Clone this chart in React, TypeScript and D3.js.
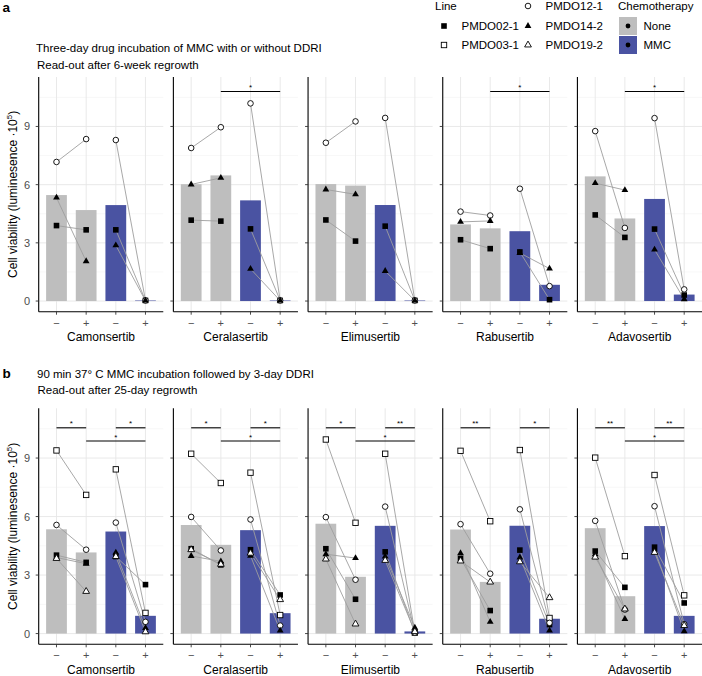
import React from "react";
import * as d3 from "d3";

// ---- categories ----
const drugs = ["Camonsertib", "Ceralasertib", "Elimusertib", "Rabusertib", "Adavosertib"];
const conditionKeys = ["None-", "None+", "MMC-", "MMC+"];
const conditionTicks = ["−", "+", "−", "+"];
const conditionChemo = ["None", "None", "MMC", "MMC"];
const yTicks = [0, 3, 6, 9];
const yMinorTicks = [1.5, 4.5, 7.5, 10.5];

// ---- a: three-day incubation, 6-week regrowth (rows = drugs, cols = conditions) ----
const a_PMDO02_1 = [
  [3.89, 3.67, 3.67, 0.03],
  [4.17, 4.12, 3.72, 0.03],
  [4.18, 3.09, 3.86, 0.03],
  [3.16, 2.7, 2.53, 0.07],
  [4.44, 3.28, 3.71, 0.31],
];
const a_PMDO12_1 = [
  [7.17, 8.35, 8.3, 0.03],
  [7.89, 8.96, 10.19, 0.03],
  [8.16, 9.26, 9.44, 0.03],
  [4.61, 4.41, 5.79, 0.77],
  [8.76, 3.77, 9.43, 0.6],
];
const a_PMDO14_2 = [
  [5.33, 2.05, 2.87, 0.02],
  [6.01, 6.35, 1.66, 0.02],
  [5.75, 5.5, 1.55, 0.02],
  [4.08, 4.13, 2.48, 1.67],
  [6.08, 5.72, 2.65, 0.09],
];

// ---- b: 90 min MMC then 3-day DDRI, 25-day regrowth ----
const b_PMDO02_1 = [
  [4.02, 3.65, 3.95, 2.51],
  [4.35, 3.52, 4.3, 1.98],
  [4.35, 1.76, 4.19, 0.05],
  [3.85, 1.18, 4.28, 0.46],
  [4.23, 2.37, 4.43, 1.57],
];
const b_PMDO03_1 = [
  [9.39, 7.11, 8.42, 1.06],
  [9.22, 7.72, 8.25, 0.95],
  [9.95, 5.68, 9.22, 0.05],
  [9.37, 5.76, 9.41, 0.8],
  [9.02, 3.97, 8.13, 1.96],
];
const b_PMDO12_1 = [
  [5.57, 4.3, 5.69, 0.6],
  [5.98, 4.26, 5.85, 0.41],
  [5.97, 2.76, 6.51, 0.05],
  [5.61, 3.07, 6.37, 0.55],
  [5.78, 1.23, 6.53, 0.48],
];
const b_PMDO14_2 = [
  [3.9, 3.58, 4.15, 0.29],
  [3.98, 3.7, 3.99, 0.15],
  [4.07, 3.87, 3.95, 0.3],
  [4.12, 0.6, 3.9, 0.15],
  [4.07, 0.75, 4.31, 0.12],
];
const b_PMDO19_2 = [
  [3.85, 2.16, 3.95, 0.09],
  [4.3, 3.55, 4.12, 1.74],
  [3.82, 0.49, 3.75, 0.1],
  [3.72, 2.64, 3.68, 1.84],
  [3.92, 1.26, 4.16, 0.41],
];

// ---- significance brackets: [drug, fromCondition, toCondition, y, label] ----
const sigA: [string, number, number, number, string][] = [
  ["Ceralasertib", 1, 3, 10.8, "*"],
  ["Rabusertib", 1, 3, 10.8, "*"],
  ["Adavosertib", 1, 3, 10.8, "*"],
];
const sigB: [string, number, number, number, string][] = [
  ["Camonsertib", 0, 1, 10.55, "*"],
  ["Camonsertib", 2, 3, 10.55, "*"],
  ["Camonsertib", 1, 3, 9.87, "*"],
  ["Ceralasertib", 0, 1, 10.55, "*"],
  ["Ceralasertib", 2, 3, 10.55, "*"],
  ["Ceralasertib", 1, 3, 9.87, "*"],
  ["Elimusertib", 0, 1, 10.55, "*"],
  ["Elimusertib", 2, 3, 10.55, "**"],
  ["Elimusertib", 1, 3, 9.87, "*"],
  ["Rabusertib", 0, 1, 10.55, "**"],
  ["Rabusertib", 2, 3, 10.55, "*"],
  ["Adavosertib", 0, 1, 10.55, "**"],
  ["Adavosertib", 2, 3, 10.55, "**"],
  ["Adavosertib", 1, 3, 9.87, "*"],
];

type Series = { line: string; values: number[][] };
const seriesA: Series[] = [
  { line: "PMDO02-1", values: a_PMDO02_1 },
  { line: "PMDO12-1", values: a_PMDO12_1 },
  { line: "PMDO14-2", values: a_PMDO14_2 },
];
const seriesB: Series[] = [
  { line: "PMDO02-1", values: b_PMDO02_1 },
  { line: "PMDO03-1", values: b_PMDO03_1 },
  { line: "PMDO12-1", values: b_PMDO12_1 },
  { line: "PMDO14-2", values: b_PMDO14_2 },
  { line: "PMDO19-2", values: b_PMDO19_2 },
];

const lineShape: Record<string, string> = {
  "PMDO02-1": "squareFilled",
  "PMDO03-1": "squareOpen",
  "PMDO12-1": "circleOpen",
  "PMDO14-2": "triangleFilled",
  "PMDO19-2": "triangleOpen",
};
const chemoColor = d3.scaleOrdinal<string, string>().domain(["None", "MMC"]).range(["#bebebe", "#4a53a2"]);

const W = 702;
const H = 676;
const FONT = "'Liberation Sans', Arial, Helvetica, sans-serif";
const panelScale = d3.scaleBand<string>().domain(drugs).range([38.7, 702]).paddingInner(0.075).paddingOuter(0);
const yDomain: [number, number] = [-0.55, 11.55];

const triPath = d3.symbol().type(d3.symbolTriangle).size(20)();

function Marker({ shape, x, y }: { shape: string; x: number; y: number }) {
  switch (shape) {
    case "squareFilled":
      return <rect x={x - 2.8} y={y - 2.8} width={5.6} height={5.6} fill="#000" />;
    case "squareOpen":
      return <rect x={x - 2.7} y={y - 2.7} width={5.4} height={5.4} fill="#fff" stroke="#000" strokeWidth={0.9} />;
    case "circleOpen":
      return <circle cx={x} cy={y} r={2.8} fill="#fff" stroke="#000" strokeWidth={0.9} />;
    case "triangleFilled":
      return <path d={triPath || ""} transform={`translate(${x},${y})`} fill="#000" />;
    default:
      return (
        <path d={triPath || ""} transform={`translate(${x},${y})`} fill="#fff" stroke="#000" strokeWidth={0.9} />
      );
  }
}

function Experiment({
  top,
  bottom,
  series,
  sig,
}: {
  top: number;
  bottom: number;
  series: Series[];
  sig: [string, number, number, number, string][];
}) {
  const y = d3.scaleLinear().domain(yDomain).range([bottom, top]);
  return (
    <g>
      {drugs.map((drug, di) => {
        const x0 = panelScale(drug)!;
        const pw = panelScale.bandwidth();
        const x = d3.scalePoint<string>().domain(conditionKeys).range([x0, x0 + pw]).padding(0.6);
        const bw = x.step() * 0.7;
        const means = conditionKeys.map((_, ci) => d3.mean(series, (s) => s.values[di][ci]) ?? 0);
        return (
          <g key={drug}>
            {/* grid */}
            {yMinorTicks.map((t) => (
              <line key={"m" + t} x1={x0} x2={x0 + pw} y1={y(t)} y2={y(t)} stroke="#f1f1f1" strokeWidth={0.6} />
            ))}
            {yTicks.map((t) => (
              <line key={"g" + t} x1={x0} x2={x0 + pw} y1={y(t)} y2={y(t)} stroke="#e6e6e6" strokeWidth={0.9} />
            ))}
            {conditionKeys.map((c) => (
              <line key={"v" + c} x1={x(c)!} x2={x(c)!} y1={top} y2={bottom} stroke="#e6e6e6" strokeWidth={0.9} />
            ))}
            {/* bars: mean per condition */}
            {conditionKeys.map((c, ci) => (
              <rect
                key={"b" + c}
                x={x(c)! - bw / 2}
                width={bw}
                y={Math.min(y(means[ci]), y(0))}
                height={Math.abs(y(0) - y(means[ci]))}
                fill={chemoColor(conditionChemo[ci])}
              />
            ))}
            {/* paired lines within each chemotherapy group */}
            {series.map((s) =>
              [0, 2].map((ci) => (
                <line
                  key={s.line + ci}
                  x1={x(conditionKeys[ci])!}
                  x2={x(conditionKeys[ci + 1])!}
                  y1={y(s.values[di][ci])}
                  y2={y(s.values[di][ci + 1])}
                  stroke="#9e9e9e"
                  strokeWidth={0.9}
                />
              ))
            )}
            {series.map((s) =>
              conditionKeys.map((c, ci) => (
                <Marker key={s.line + c} shape={lineShape[s.line]} x={x(c)!} y={y(s.values[di][ci])} />
              ))
            )}
            {/* axes */}
            <line x1={x0} x2={x0} y1={top} y2={bottom} stroke="#000" strokeWidth={1.1} />
            <line x1={x0} x2={x0 + pw} y1={bottom} y2={bottom} stroke="#000" strokeWidth={1.1} />
            {yTicks.map((t) => (
              <line key={"yt" + t} x1={x0 - 3} x2={x0} y1={y(t)} y2={y(t)} stroke="#333" strokeWidth={0.9} />
            ))}
            {di === 0 &&
              yTicks.map((t) => (
                <text
                  key={"yl" + t}
                  x={x0 - 8.5}
                  y={y(t) + 4}
                  textAnchor="end"
                  fontSize={11}
                  fill="#4d4d4d"
                  fontFamily={FONT}
                >
                  {t}
                </text>
              ))}
            <g opacity={0.99}>
              {conditionKeys.map((c, ci) => (
                <g key={"xt" + c}>
                  <line x1={x(c)!} x2={x(c)!} y1={bottom} y2={bottom + 3} stroke="#333" strokeWidth={0.9} />
                  <text x={x(c)!} y={bottom + 15} textAnchor="middle" fontSize={11} fill="#4d4d4d" fontFamily={FONT}>
                    {conditionTicks[ci]}
                  </text>
                </g>
              ))}
            </g>
            <text
              x={x0 + pw / 2}
              y={bottom + 29.3}
              textAnchor="middle"
              fontSize={12}
              fill="#000"
              fontFamily={FONT}
            >
              {drug}
            </text>
            {/* significance brackets */}
            {sig
              .filter((d) => d[0] === drug)
              .map((d, i) => {
                const xa = x(conditionKeys[d[1]])!;
                const xb = x(conditionKeys[d[2]])!;
                return (
                  <g key={"s" + i}>
                    <line x1={xa} x2={xb} y1={y(d[3])} y2={y(d[3])} stroke="#000" strokeWidth={1.1} />
                    <text
                      x={(xa + xb) / 2}
                      y={y(d[3]) - 1.5}
                      textAnchor="middle"
                      fontSize={8}
                      fill="#000"
                      fontFamily={FONT}
                    >
                      {d[4]}
                    </text>
                  </g>
                );
              })}
          </g>
        );
      })}
      <text
        transform={`translate(16.5,${(top + bottom) / 2}) rotate(-90)`}
        textAnchor="middle"
        fontSize={12}
        fill="#000"
        fontFamily={FONT}
      >
        Cell viability (luminesence ·10
        <tspan fontSize={8} dy={-5}>
          5
        </tspan>
        <tspan dy={5}>)</tspan>
      </text>
    </g>
  );
}

const legendLines = ["PMDO02-1", "PMDO03-1", "PMDO12-1", "PMDO14-2", "PMDO19-2"];
const legendChemo = ["None", "MMC"];

function Legend() {
  // two-column layout for the cell-line key
  const slots = [
    { x: 444, y: 26 },
    { x: 444, y: 45 },
    { x: 528, y: 6 },
    { x: 528, y: 26 },
    { x: 528, y: 45 },
  ];
  return (
    <g fontFamily={FONT} fontSize={11.5} fill="#000">
      <text x={435} y={10}>Line</text>
      {legendLines.map((l, i) => (
        <g key={l}>
          <Marker shape={lineShape[l]} x={slots[i].x} y={slots[i].y} />
          <text x={slots[i].x + 17.5} y={slots[i].y + 4}>
            {l}
          </text>
        </g>
      ))}
      <text x={618} y={9.5}>Chemotherapy</text>
      {legendChemo.map((c, i) => (
        <g key={c}>
          <rect x={619} y={17 + i * 19} width={18} height={18} fill={chemoColor(c)} />
          <circle cx={628} cy={26 + i * 19} r={2.4} fill="#000" />
          <text x={643.5} y={30 + i * 19}>
            {c}
          </text>
        </g>
      ))}
    </g>
  );
}

export default function App() {
  return (
    <svg
      width={W}
      height={H}
      viewBox={`0 0 ${W} ${H}`}
      style={{ position: "absolute", left: 0, top: 0, background: "#fff" }}
    >
      <rect width={W} height={H} fill="#fff" />
      <text x={2.5} y={12} fontSize={13.5} fontWeight="bold" fontFamily={FONT}>
        a
      </text>
      <text x={36} y={52} fontSize={11.5} fontFamily={FONT}>
        Three-day drug incubation of MMC with or without DDRI
      </text>
      <text x={37} y={68.5} fontSize={11.5} fontFamily={FONT}>
        Read-out after 6-week regrowth
      </text>
      <Legend />
      <Experiment top={77} bottom={311.7} series={seriesA} sig={sigA} />

      <text x={2.5} y={378} fontSize={13.5} fontWeight="bold" fontFamily={FONT}>
        b
      </text>
      <text x={37} y={377.5} fontSize={11.5} fontFamily={FONT}>
        90 min 37° C MMC incubation followed by 3-day DDRI
      </text>
      <text x={37.5} y={393.5} fontSize={11.5} fontFamily={FONT}>
        Read-out after 25-day regrowth
      </text>
      <Experiment top={408.3} bottom={644.3} series={seriesB} sig={sigB} />
    </svg>
  );
}
